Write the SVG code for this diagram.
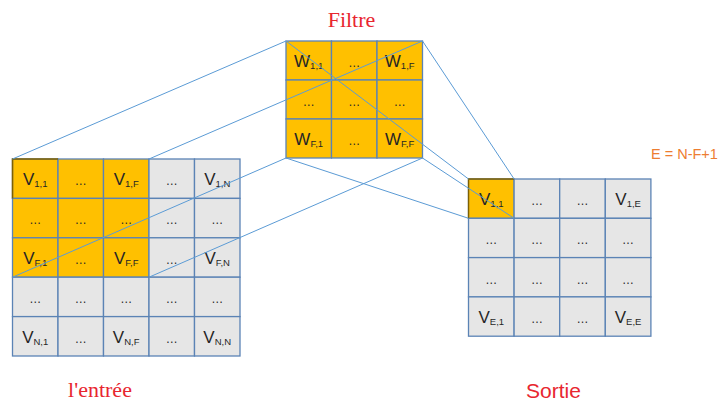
<svg xmlns="http://www.w3.org/2000/svg" width="718" height="403" viewBox="0 0 718 403">
<style>
.o{fill:#FFC000;stroke:#5B83B5;stroke-width:1.3}
.g{fill:#E6E6E6;stroke:#5B83B5;stroke-width:1.3}
.v{font-family:"Liberation Sans",Arial,sans-serif;font-size:17px;fill:#262626;text-anchor:middle}
.s{font-size:9.5px}
.d{font-family:"Liberation Sans",Arial,sans-serif;font-size:12px;fill:#262626;text-anchor:middle}
.c{stroke:#5B9BD5;stroke-width:1;fill:none}
.tser{font-family:"Liberation Serif","Times New Roman",serif;font-size:22px;fill:#E8262F;text-anchor:middle}
.tsan{font-family:"Liberation Sans",Arial,sans-serif;font-size:21px;fill:#E8262F;text-anchor:middle}
.eq{font-family:"Liberation Sans",Arial,sans-serif;font-size:14.5px;fill:#ED7D31}
</style>
<rect width="718" height="403" fill="#FFFFFF"/>

<g id="input">
<rect class="o" x="12.5" y="159" width="45.5" height="39.4"/>
<rect class="o" x="58" y="159" width="45.5" height="39.4"/>
<rect class="o" x="103.5" y="159" width="45.5" height="39.4"/>
<rect class="g" x="149" y="159" width="45.5" height="39.4"/>
<rect class="g" x="194.5" y="159" width="45.5" height="39.4"/>
<rect class="o" x="12.5" y="198.4" width="45.5" height="39.4"/>
<rect class="o" x="58" y="198.4" width="45.5" height="39.4"/>
<rect class="o" x="103.5" y="198.4" width="45.5" height="39.4"/>
<rect class="g" x="149" y="198.4" width="45.5" height="39.4"/>
<rect class="g" x="194.5" y="198.4" width="45.5" height="39.4"/>
<rect class="o" x="12.5" y="237.8" width="45.5" height="39.4"/>
<rect class="o" x="58" y="237.8" width="45.5" height="39.4"/>
<rect class="o" x="103.5" y="237.8" width="45.5" height="39.4"/>
<rect class="g" x="149" y="237.8" width="45.5" height="39.4"/>
<rect class="g" x="194.5" y="237.8" width="45.5" height="39.4"/>
<rect class="g" x="12.5" y="277.2" width="45.5" height="39.4"/>
<rect class="g" x="58" y="277.2" width="45.5" height="39.4"/>
<rect class="g" x="103.5" y="277.2" width="45.5" height="39.4"/>
<rect class="g" x="149" y="277.2" width="45.5" height="39.4"/>
<rect class="g" x="194.5" y="277.2" width="45.5" height="39.4"/>
<rect class="g" x="12.5" y="316.6" width="45.5" height="39.4"/>
<rect class="g" x="58" y="316.6" width="45.5" height="39.4"/>
<rect class="g" x="103.5" y="316.6" width="45.5" height="39.4"/>
<rect class="g" x="149" y="316.6" width="45.5" height="39.4"/>
<rect class="g" x="194.5" y="316.6" width="45.5" height="39.4"/>
<path d="M12.5 198.4 V159 H58" fill="none" stroke="#7F6000" stroke-width="1.5"/>
<text class="v" x="35.2" y="185">V<tspan class="s" dy="2">1,1</tspan></text>
<text class="d" x="80.7" y="185">…</text>
<text class="v" x="126.2" y="185">V<tspan class="s" dy="2">1,F</tspan></text>
<text class="d" x="171.7" y="185">…</text>
<text class="v" x="217.2" y="185">V<tspan class="s" dy="2">1,N</tspan></text>
<text class="d" x="35.2" y="224.4">…</text>
<text class="d" x="80.7" y="224.4">…</text>
<text class="d" x="126.2" y="224.4">…</text>
<text class="d" x="171.7" y="224.4">…</text>
<text class="d" x="217.2" y="224.4">…</text>
<text class="v" x="35.2" y="263.8">V<tspan class="s" dy="2">F,1</tspan></text>
<text class="d" x="80.7" y="263.8">…</text>
<text class="v" x="126.2" y="263.8">V<tspan class="s" dy="2">F,F</tspan></text>
<text class="d" x="171.7" y="263.8">…</text>
<text class="v" x="217.2" y="263.8">V<tspan class="s" dy="2">F,N</tspan></text>
<text class="d" x="35.2" y="303.2">…</text>
<text class="d" x="80.7" y="303.2">…</text>
<text class="d" x="126.2" y="303.2">…</text>
<text class="d" x="171.7" y="303.2">…</text>
<text class="d" x="217.2" y="303.2">…</text>
<text class="v" x="35.2" y="342.6">V<tspan class="s" dy="2">N,1</tspan></text>
<text class="d" x="80.7" y="342.6">…</text>
<text class="v" x="126.2" y="342.6">V<tspan class="s" dy="2">N,F</tspan></text>
<text class="d" x="171.7" y="342.6">…</text>
<text class="v" x="217.2" y="342.6">V<tspan class="s" dy="2">N,N</tspan></text>
</g>

<g id="filter">
<rect class="o" x="286" y="41" width="45.5" height="39"/>
<rect class="o" x="331.5" y="41" width="45.5" height="39"/>
<rect class="o" x="377" y="41" width="45.5" height="39"/>
<rect class="o" x="286" y="80" width="45.5" height="39"/>
<rect class="o" x="331.5" y="80" width="45.5" height="39"/>
<rect class="o" x="377" y="80" width="45.5" height="39"/>
<rect class="o" x="286" y="119" width="45.5" height="39"/>
<rect class="o" x="331.5" y="119" width="45.5" height="39"/>
<rect class="o" x="377" y="119" width="45.5" height="39"/>
<text class="v" x="308.7" y="66.5">W<tspan class="s" dy="2">1,1</tspan></text>
<text class="d" x="354.2" y="66.5">…</text>
<text class="v" x="399.7" y="66.5">W<tspan class="s" dy="2">1,F</tspan></text>
<text class="d" x="308.7" y="105.5">…</text>
<text class="d" x="354.2" y="105.5">…</text>
<text class="d" x="399.7" y="105.5">…</text>
<text class="v" x="308.7" y="144.5">W<tspan class="s" dy="2">F,1</tspan></text>
<text class="d" x="354.2" y="144.5">…</text>
<text class="v" x="399.7" y="144.5">W<tspan class="s" dy="2">F,F</tspan></text>
</g>

<g id="output">
<rect class="o" x="468.5" y="179" width="45.6" height="39.3"/>
<rect class="g" x="514.1" y="179" width="45.6" height="39.3"/>
<rect class="g" x="559.7" y="179" width="45.6" height="39.3"/>
<rect class="g" x="605.3" y="179" width="45.6" height="39.3"/>
<rect class="g" x="468.5" y="218.3" width="45.6" height="39.3"/>
<rect class="g" x="514.1" y="218.3" width="45.6" height="39.3"/>
<rect class="g" x="559.7" y="218.3" width="45.6" height="39.3"/>
<rect class="g" x="605.3" y="218.3" width="45.6" height="39.3"/>
<rect class="g" x="468.5" y="257.6" width="45.6" height="39.3"/>
<rect class="g" x="514.1" y="257.6" width="45.6" height="39.3"/>
<rect class="g" x="559.7" y="257.6" width="45.6" height="39.3"/>
<rect class="g" x="605.3" y="257.6" width="45.6" height="39.3"/>
<rect class="g" x="468.5" y="296.9" width="45.6" height="39.3"/>
<rect class="g" x="514.1" y="296.9" width="45.6" height="39.3"/>
<rect class="g" x="559.7" y="296.9" width="45.6" height="39.3"/>
<rect class="g" x="605.3" y="296.9" width="45.6" height="39.3"/>
<path d="M468.5 218.3 V179 H514.1" fill="none" stroke="#7F6000" stroke-width="1.3"/>
<text class="v" x="491.3" y="205">V<tspan class="s" dy="2">1,1</tspan></text>
<text class="d" x="536.9" y="205">…</text>
<text class="d" x="582.5" y="205">…</text>
<text class="v" x="628.1" y="205">V<tspan class="s" dy="2">1,E</tspan></text>
<text class="d" x="491.3" y="244.3">…</text>
<text class="d" x="536.9" y="244.3">…</text>
<text class="d" x="582.5" y="244.3">…</text>
<text class="d" x="628.1" y="244.3">…</text>
<text class="d" x="491.3" y="283.6">…</text>
<text class="d" x="536.9" y="283.6">…</text>
<text class="d" x="582.5" y="283.6">…</text>
<text class="d" x="628.1" y="283.6">…</text>
<text class="v" x="491.3" y="322.9">V<tspan class="s" dy="2">E,1</tspan></text>
<text class="d" x="536.9" y="322.9">…</text>
<text class="d" x="582.5" y="322.9">…</text>
<text class="v" x="628.1" y="322.9">V<tspan class="s" dy="2">E,E</tspan></text>
</g>

<g id="connectors">
<line class="c" x1="12.5" y1="159" x2="286" y2="41"/>
<line class="c" x1="149" y1="159" x2="422.5" y2="41"/>
<line class="c" x1="12.5" y1="277.2" x2="286" y2="158"/>
<line class="c" x1="149" y1="277.2" x2="422.5" y2="158"/>
<line class="c" x1="286" y1="41" x2="468.5" y2="179"/>
<line class="c" x1="422.5" y1="41" x2="514.1" y2="179"/>
<line class="c" x1="286" y1="158" x2="468.5" y2="218.3"/>
<line class="c" x1="422.5" y1="158" x2="514.1" y2="218.3"/>
</g>

<g id="labels">
<text class="tser" x="351.5" y="26.5">Filtre</text>
<text class="tser" x="100" y="397">l'entrée</text>
<text class="tsan" x="553.5" y="398">Sortie</text>
<text class="eq" x="651" y="158.5">E = N-F+1</text>
</g>
</svg>
